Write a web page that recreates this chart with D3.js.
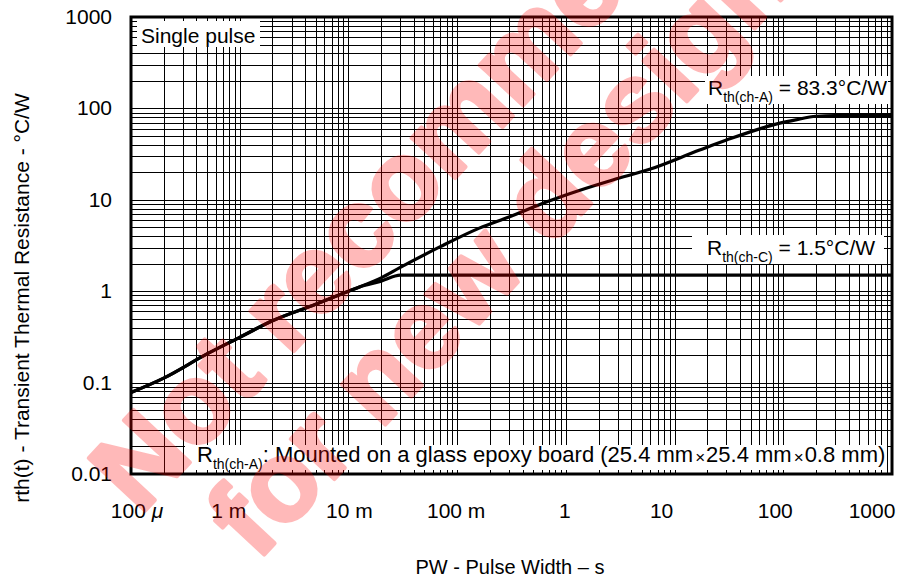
<!DOCTYPE html>
<html>
<head>
<meta charset="utf-8">
<script src="https://cdn.jsdelivr.net/npm/d3@7"></script>
<style>
  body { margin: 0; background: #fff; }
  text { font-family: "Liberation Sans", Arial, sans-serif; fill: #000; }
</style>
</head>
<body>
<div id="chart"></div>
<script>
// Pulse width (s) and transient thermal resistance (°C/W)
const pwA = [1e-4, 2e-4, 5e-4, 1e-3, 2e-3, 5e-3, 1e-2, 1.28e-2, 2e-2, 3e-2, 7e-2, 0.16, 0.3, 0.67, 1, 2.7, 6, 17, 30, 93, 130, 200, 300, 1000];
const rthA = [0.078, 0.112, 0.206, 0.313, 0.475, 0.72, 1.0, 1.12, 1.4, 1.82, 3.07, 4.9, 6.5, 9.5, 11.3, 16.5, 21.7, 35, 45, 69, 75, 82, 83.3, 83.3];
const pwC = [1e-4, 2e-4, 5e-4, 1e-3, 2e-3, 5e-3, 1e-2, 1.28e-2, 2e-2, 3e-2, 1000];
const rthC = [0.078, 0.112, 0.206, 0.313, 0.475, 0.72, 1.0, 1.12, 1.29, 1.5, 1.5];

// Tick labels
const xTickValues = [1e-4, 1e-3, 1e-2, 1e-1, 1, 10, 100, 1000];
const xTickLabels = ['100 ', '1 m', '10 m', '100 m', '1', '10', '100', '1000'];
const xTickNudge = [6, -11, 1, -1, -1, -13, -8, -20];
const yTickValues = [0.01, 0.1, 1, 10, 100, 1000];
const yTickLabels = ['0.01', '0.1', '1', '10', '100', '1000'];

const W = 901, H = 577;
const margin = { top: 17, right: 9, bottom: 103, left: 131 };
const width = W - margin.left - margin.right;
const height = H - margin.top - margin.bottom;

const svg = d3.select('#chart').append('svg')
    .attr('width', W).attr('height', H);
const g = svg.append('g')
    .attr('transform', `translate(${margin.left}, ${margin.top})`);

const x = d3.scaleLog().domain([1e-4, 1000]).range([0, width]);
const y = d3.scaleLog().domain([0.01, 1000]).range([height, 0]);

// Grid: every 1..9 multiple in each decade
g.append('g').selectAll('line').data(x.ticks())
    .enter().append('line')
    .attr('x1', d => Math.round(x(d)) + 0.5).attr('x2', d => Math.round(x(d)) + 0.5)
    .attr('y1', 0).attr('y2', height)
    .attr('stroke', '#000').attr('stroke-width', 1);
g.append('g').selectAll('line').data(y.ticks())
    .enter().append('line')
    .attr('y1', d => Math.round(y(d)) + 0.5).attr('y2', d => Math.round(y(d)) + 0.5)
    .attr('x1', 0).attr('x2', width)
    .attr('stroke', '#000').attr('stroke-width', 1);

// Text boxes (white background over grid)
function label(gx, gy, bx, by, bw, bh, size, parts) {
    g.append('rect').attr('x', bx - margin.left).attr('y', by - margin.top)
        .attr('width', bw).attr('height', bh).attr('fill', '#fff');
    const t = g.append('text').attr('x', gx - margin.left).attr('y', gy - margin.top)
        .style('font-size', size + 'px');
    parts.forEach(p => {
        const s = t.append('tspan').text(p.t);
        if (p.sub) s.style('font-size', '14px').attr('dy', 7);
        if (p.up) s.attr('dy', -7);
        if (p.small) s.style('font-size', '17px').attr('dx', 2).attr('dy', 1);
        if (p.back) s.attr('dx', 1).attr('dy', -1);
    });
}
label(141, 43, 137, 21, 123, 26, 21, [{ t: 'Single pulse' }]);
label(708, 95, 705, 76, 183, 28, 21, [
    { t: 'R' }, { t: 'th(ch-A)', sub: true }, { t: ' = 83.3°C/W', up: true }]);
label(707, 255, 692, 235, 192, 29, 21, [
    { t: 'R' }, { t: 'th(ch-C)', sub: true }, { t: ' = 1.5°C/W', up: true }]);
label(197, 462, 185, 445, 702, 25, 22, [
    { t: 'R' }, { t: 'th(ch-A)', sub: true },
    { t: ': Mounted on a glass epoxy board (25.4 mm', up: true },
    { t: '×', small: true }, { t: '25.4 mm', back: true },
    { t: '×', small: true }, { t: '0.8 mm)', back: true }]);

// Curves
const line = d3.line().x(d => x(d[0])).y(d => y(d[1])).curve(d3.curveMonotoneX);
g.append('path').datum(d3.zip(pwA, rthA))
    .attr('d', line).attr('fill', 'none').attr('stroke', '#000').attr('stroke-width', 3.2)
    .attr('stroke-linejoin', 'round');
g.append('path').datum(d3.zip(pwC, rthC))
    .attr('d', line).attr('fill', 'none').attr('stroke', '#000').attr('stroke-width', 3.2)
    .attr('stroke-linejoin', 'round');

// Frame
g.append('rect').attr('x', 0).attr('y', 0).attr('width', width).attr('height', height)
    .attr('fill', 'none').attr('stroke', '#000').attr('stroke-width', 3);

// Tick labels
g.append('g').selectAll('text').data(xTickValues)
    .enter().append('text')
    .attr('x', (d, i) => x(d) + xTickNudge[i])
    .attr('y', 518 - margin.top)
    .attr('text-anchor', 'middle')
    .style('font-size', '21px')
    .each(function (d, i) {
        const t = d3.select(this);
        t.append('tspan').text(xTickLabels[i]);
        if (i === 0) t.append('tspan').style('font-style', 'italic').text('μ');
    });
g.append('g').selectAll('text').data(yTickValues)
    .enter().append('text')
    .attr('x', 112 - margin.left)
    .attr('y', d => y(d) + 7)
    .attr('text-anchor', 'end')
    .style('font-size', '21px')
    .text((d, i) => yTickLabels[i]);

// Axis titles
svg.append('text').attr('x', 510).attr('y', 574).attr('text-anchor', 'middle')
    .style('font-size', '20px').text('PW - Pulse Width – s');
svg.append('text').attr('transform', 'translate(29, 298) rotate(-90)')
    .attr('text-anchor', 'middle').style('font-size', '21px')
    .text('rth(t) - Transient Thermal Resistance - °C/W');

// Watermark
const wm = svg.append('g').attr('transform', 'translate(140, 516) rotate(-47)')
    .style('opacity', 0.27)
    .style('font-weight', 'bold').style('font-size', '112px');
wm.append('text').attr('x', 0).attr('y', 0)
    .style('fill', 'red').style('stroke', 'red').style('stroke-width', 4)
    .style('stroke-linejoin', 'round')
    .text('Not recommended');
wm.append('text').attr('x', 46).attr('y', 117)
    .style('fill', 'red').style('stroke', 'red').style('stroke-width', 4)
    .style('stroke-linejoin', 'round')
    .text('for new design');
</script>
</body>
</html>
